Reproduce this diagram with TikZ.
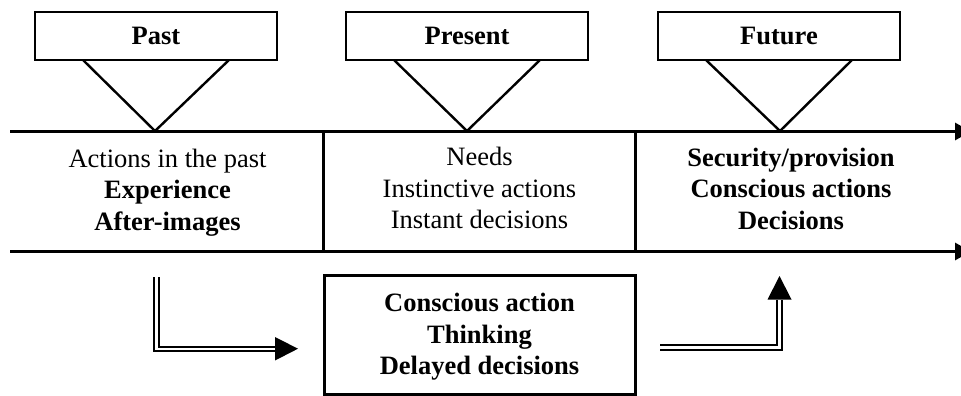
\documentclass[tikz,border=0pt]{standalone}
\usepackage{fontspec}
\setmainfont{Liberation Serif}
\usetikzlibrary{arrows.meta}

\begin{document}
\begin{tikzpicture}[x=1pt,y=-1pt,
  every node/.style={inner sep=0pt, outer sep=0pt},
  bigfont/.style={font=\fontsize{26.5}{31.5}\selectfont},
  epoch/.style={draw, line width=1.8pt, minimum width=242pt, minimum height=48pt,
                font=\fontsize{26.5}{31.5}\selectfont\bfseries},
  pointer/.style={line width=2.4pt},
  axis/.style={line width=3pt, -{Triangle[length=16pt,width=17pt]}},
  divider/.style={line width=3pt},
  info/.style={align=center, anchor=base, bigfont},
  dbl/.style={double, line width=2pt, double distance=2.2pt},
  head/.style={fill=black}
]
\useasboundingbox (0,0) rectangle (961,396);

% time axes
\coordinate (a1) at (10,131.5);
\coordinate (a1e) at (971,131.5);
\coordinate (a2) at (10,251.5);
\coordinate (a2e) at (971,251.5);
\draw[axis] (a1) -- (a1e);
\draw[axis] (a2) -- (a2e);

% section dividers
\coordinate (d1t) at (323,131.5);
\coordinate (d1b) at (323,251.5);
\coordinate (d2t) at (635,131.5);
\coordinate (d2b) at (635,251.5);
\draw[divider] (d1t) -- (d1b);
\draw[divider] (d2t) -- (d2b);

% epoch labels with pointers onto the axis
\node[epoch] (past) at (156,36) {Past};
\node[epoch] (present) at (467,36) {Present};
\node[epoch] (future) at (779,36) {Future};
\foreach \e/\cx in {past/155, present/467, future/780}{
  \coordinate (\e-tip) at (\cx,131);
  \draw[pointer] ([xshift=-73pt]\e.south) -- (\e-tip) -- ([xshift=73pt]\e.south);
}

% section contents (anchored at the baseline of the last line)
\node[info] (pasttext) at (167.5,230)
  {Actions in the past\\\textbf{Experience}\\\textbf{After-images}};
\node[info] (presenttext) at (479.5,228.5)
  {Needs\\Instinctive actions\\Instant decisions};
\node[info] (futuretext) at (791,229)
  {\textbf{Security/provision}\\\textbf{Conscious actions}\\\textbf{Decisions}};

% reflection box
\node[draw, line width=3pt, minimum width=311pt, minimum height=119pt]
  (think) at (479.5,334.5) {};
\node[info, font=\fontsize{26.5}{31.5}\selectfont\bfseries] (thinktext) at (479.5,374.5)
  {Conscious action\\Thinking\\Delayed decisions};

% double arrow from the past into the reflection box
\coordinate (l1) at (156.5,277);
\coordinate (l2) at (156.5,348.7);
\coordinate (l3) at (276,348.7);
\coordinate (l4) at (298,348.7);
\draw[dbl] (l1) -- (l2) -- (l3);
\fill[head] (l4) -- (275,337) -- (275,360.5) -- cycle;

% double arrow from the reflection box up to the future
\coordinate (r1) at (660,347.5);
\coordinate (r2) at (779.5,347.5);
\coordinate (r3) at (779.5,300);
\coordinate (r4) at (779.5,276);
\draw[dbl] (r1) -- (r2) -- (r3);
\fill[head] (r4) -- (767.5,299.5) -- (791.5,299.5) -- cycle;
\end{tikzpicture}
\end{document}
